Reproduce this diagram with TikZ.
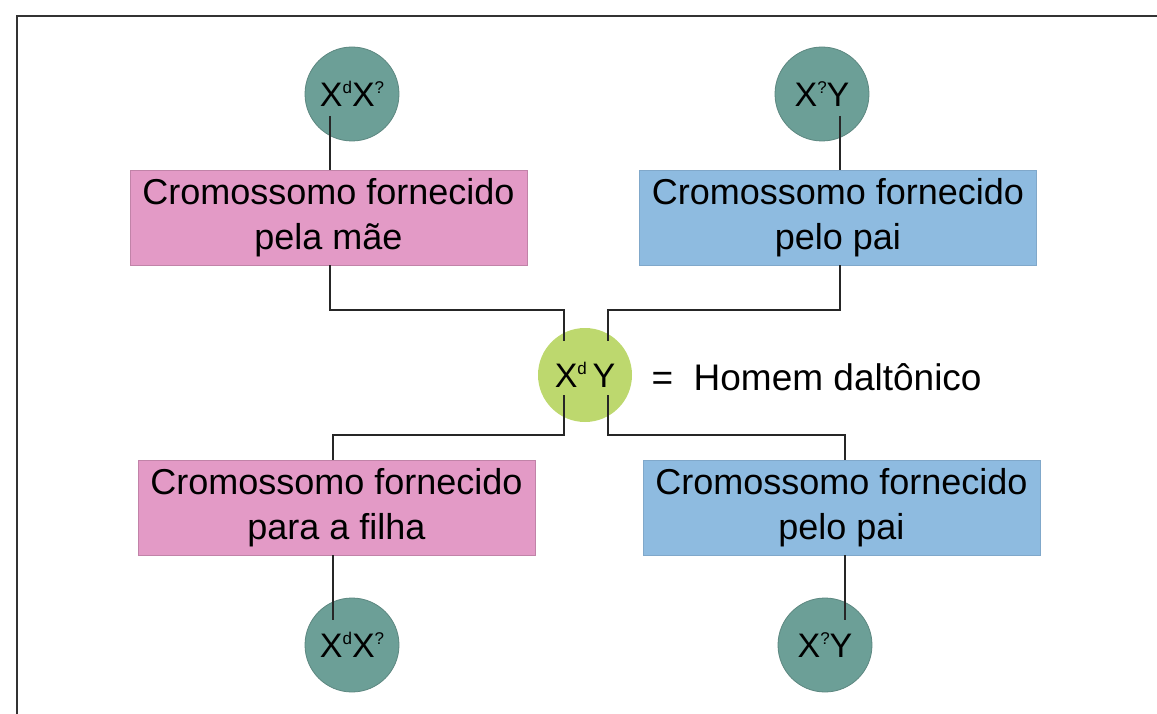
\documentclass[tikz,border=0pt]{standalone}
\usepackage{fontspec}
\setmainfont{Liberation Sans}
\definecolor{teal1}{HTML}{6C9F97}
\definecolor{pinkbox}{HTML}{E39AC6}
\definecolor{bluebox}{HTML}{8EBBE0}
\definecolor{greenc}{HTML}{BDD86E}
\definecolor{frame}{HTML}{333333}
\newcommand{\sups}[1]{\raisebox{0.75ex}{\fontsize{17}{17}\selectfont #1}}
\begin{document}
\begin{tikzpicture}[x=1pt,y=-1pt,
  chrom/.style={circle,fill=teal1,draw=teal1!85!black,line width=0.8pt,minimum size=94pt,inner sep=0pt,font=\fontsize{34}{40}\selectfont},
  male/.style={circle,fill=greenc,minimum size=94pt,inner sep=0pt,font=\fontsize{34}{40}\selectfont},
  box/.style={rectangle,minimum width=397pt,minimum height=95pt,inner sep=0pt,align=center,font=\fontsize{36}{45}\selectfont},
  pbox/.style={box,fill=pinkbox,draw=pinkbox!85!black,line width=0.8pt},
  bbox/.style={box,fill=bluebox,draw=bluebox!90!black,line width=0.8pt},
  conn/.style={line width=2pt,draw=black!85}
]
\useasboundingbox (0,0) rectangle (1157,714);
\draw[line width=2.4pt,frame] (17,714) -- (17,16) -- (1157,16);

\node[chrom] (c1) at (352,94) {X\sups{d}X\sups{?}};
\node[chrom] (c2) at (822,94) {X\sups{?}Y};
\node[pbox] (b1) at (328.5,217.5) {Cromossomo fornecido\\pela mãe};
\node[bbox] (b2) at (838,217.5) {Cromossomo fornecido\\pelo pai};
\node[male] (g) at (585,375) {X\sups{d}\,Y};
\node[anchor=west,font=\fontsize{37}{40}\selectfont] (lab) at (648,377) {=\ \ Homem daltônico};
\node[pbox] (b3) at (336.5,507.5) {Cromossomo fornecido\\para a filha};
\node[bbox] (b4) at (841.5,507.5) {Cromossomo fornecido\\pelo pai};
\node[chrom] (c3) at (352,645) {X\sups{d}X\sups{?}};
\node[chrom] (c4) at (825,645) {X\sups{?}Y};

\coordinate (t1) at (330,116);
\coordinate (t2) at (840,116);
\coordinate (gl1) at (564,341);
\coordinate (gr1) at (608,341);
\coordinate (gl2) at (564,395);
\coordinate (gr2) at (608,395);
\coordinate (d3) at (333,620);
\coordinate (d4) at (845,620);

\draw[conn] (t1) -- (t1 |- b1.north);
\draw[conn] (t2) -- (t2 |- b2.north);
\draw[conn] (b1.south -| t1) -- (330,310) -| (gl1);
\draw[conn] (b2.south -| t2) -- (840,310) -| (gr1);
\draw[conn] (gl2) -- (564,435) -| (b3.north -| d3);
\draw[conn] (gr2) -- (608,435) -| (b4.north -| d4);
\draw[conn] (b3.south -| d3) -- (d3);
\draw[conn] (b4.south -| d4) -- (d4);
\end{tikzpicture}
\end{document}
